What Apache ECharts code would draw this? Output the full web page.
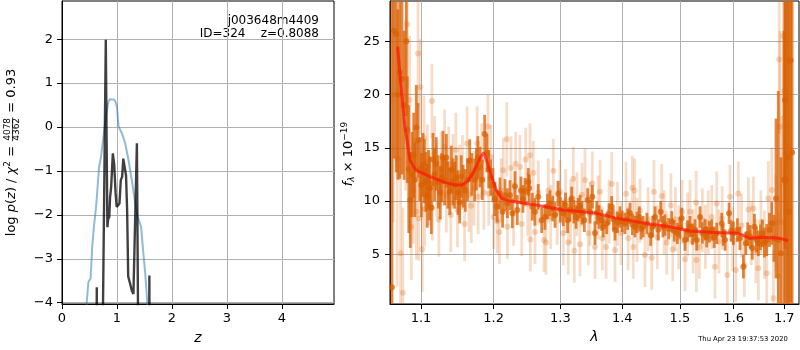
<!DOCTYPE html>
<html><head><meta charset="utf-8">
<script src="https://cdn.jsdelivr.net/npm/echarts@6/dist/echarts.min.js"></script>
<style>html,body{margin:0;padding:0;background:#fff}#c{width:800px;height:350px}</style>
</head><body><div id="c"></div><script>
// ---------------- data ----------------
const zTicks = [0, 1, 2, 3, 4];
const logpTicks = [-4, -3, -2, -1, 0, 1, 2];
const lamTicks = [1.1, 1.2, 1.3, 1.4, 1.5, 1.6, 1.7];
const fluxTicks = [5, 10, 15, 20, 25];

const blueZ =    [0.44, 0.45, 0.48, 0.52, 0.55, 0.58, 0.62, 0.675, 0.71, 0.755, 0.80, 0.845, 0.87, 0.89, 0.955, 0.98, 1.0, 1.03, 1.09, 1.15, 1.21, 1.27, 1.33, 1.375, 1.41, 1.44, 1.47, 1.515, 1.545, 1.565];
const blueLogp = [-4.3, -3.99, -3.53, -3.45, -2.73, -2.28, -1.82, -0.91, -0.68, -0.22, 0.24, 0.58, 0.63, 0.63, 0.62, 0.55, 0.45, 0.01, -0.14, -0.37, -0.75, -1.21, -1.71, -2.05, -2.16, -2.28, -2.73, -3.34, -3.87, -4.3];

const blackZ =    [0.58, 0.625, 0.633, 0.641, 0.70, 0.73, 0.797, 0.812, 0.826, 0.84, 0.86, 0.875, 0.895, 0.925, 0.95, 0.975, 0.995, 1.03, 1.046, 1.07, 1.095, 1.115, 1.13, 1.145, 1.165, 1.185, 1.205, 1.24, 1.27, 1.30, 1.32, 1.363, 1.393, 1.45, 1.55, 1.585, 1.59, 1.595, 1.65];
const blackLogp = [-9, -6, -3.65, -6, -9, -6, 1.99, -0.3, -2.28, -2.1, -2.05, -1.6, -1.36, -0.6, -0.85, -1.5, -1.82, -1.86, -1.74, -1.21, -1.13, -0.72, -0.68, -0.75, -1.1, -1.89, -3.4, -3.57, -3.72, -3.80, -3.76, -0.37, -6, -9, -9, -6, -3.38, -6, -9];

const modelWave = [1.0697, 1.0736, 1.079, 1.0856, 1.0929, 1.112, 1.130, 1.146, 1.1547, 1.162, 1.169, 1.176, 1.183, 1.186, 1.19, 1.197, 1.204, 1.2117, 1.2238, 1.2535, 1.3045, 1.3577, 1.3907, 1.4416, 1.4823, 1.518, 1.5613, 1.6088, 1.617, 1.6315, 1.6578, 1.6913, 1.708];
const modelFlux = [24.5, 21.0, 17.0, 13.85, 12.9, 12.3, 11.8, 11.5, 11.5, 11.8, 12.4, 13.4, 14.3, 14.5, 13.85, 12.3, 11.0, 10.25, 10.0, 9.72, 9.16, 8.85, 8.38, 7.9, 7.59, 7.19, 7.06, 6.97, 6.81, 6.5, 6.6, 6.5, 6.28];

const darkWave = [1.0624,1.0650,1.0679,1.0700,1.0723,1.0752,1.0780,1.0808,1.0821,1.0840,1.0860,1.0882,1.0904,1.0920,1.0938,1.0961,1.0985,1.1005,1.1026,1.1045,1.1065,1.1083,1.1100,1.1115,1.1137,1.1159,1.1180,1.1203,1.1230,1.1257,1.1275,1.1294,1.1315,1.1339,1.1360,1.1385,1.1407,1.1430,1.1453,1.1475,1.1500,1.1522,1.1544,1.1570,1.1600,1.1630,1.1661,1.1690,1.1731,1.1755,1.1777,1.1805,1.1838,1.1872,1.1905,1.1930,1.1960,1.1990,1.2020,1.2050,1.2092,1.2130,1.2165,1.2200,1.2238,1.2272,1.2311,1.2345,1.2400,1.2430,1.2459,1.2509,1.2523,1.2569,1.2609,1.2659,1.2711,1.2761,1.2800,1.2839,1.2880,1.2917,1.2967,1.3000,1.3045,1.3080,1.3114,1.3150,1.3177,1.3210,1.3245,1.3280,1.3309,1.3340,1.3378,1.3431,1.3470,1.3507,1.3550,1.3580,1.3615,1.3659,1.3685,1.3741,1.3780,1.3824,1.3850,1.3878,1.3920,1.3962,1.4000,1.4046,1.4090,1.4130,1.4170,1.4215,1.4250,1.4289,1.4320,1.4356,1.4420,1.4485,1.4520,1.4560,1.4617,1.4660,1.4700,1.4736,1.4800,1.4855,1.4900,1.4955,1.5000,1.5034,1.5093,1.5140,1.5184,1.5230,1.5275,1.5306,1.5367,1.5410,1.5460,1.5491,1.5540,1.5585,1.5630,1.5678,1.5773,1.5800,1.5835,1.5911,1.5950,1.5994,1.6071,1.6120,1.6187,1.6233,1.6270,1.6318,1.6360,1.6402,1.6440,1.6480,1.6520,1.6558,1.6600,1.6646,1.6700,1.6746,1.6790,1.6832,1.6878,1.6932,1.6995,1.7012,1.7040,1.7068,1.7100,1.7129,1.7160,1.7185,1.7220];
const darkFlux = [1.9,26.0,25.7,20.0,22.1,21.5,19.0,25.0,16.7,13.0,10.1,12.5,14.3,12.0,16.9,15.7,13.0,11.5,13.4,12.8,11.8,10.5,12.0,11.2,9.4,13.9,12.5,13.5,11.8,10.8,12.2,14.1,11.9,14.1,11.5,10.9,13.0,11.8,11.5,12.2,10.8,9.9,12.3,11.4,11.0,12.0,13.8,12.5,12.0,13.0,14.1,13.2,12.0,16.3,14.5,13.0,12.2,11.5,10.2,9.5,10.72,9.0,10.56,9.8,10.56,8.85,11.4,9.16,11.0,10.2,10.87,11.8,11.2,9.47,9.0,10.4,8.2,8.5,9.5,9.8,9.3,8.7,10.7,9.2,8.85,9.6,8.2,9.2,10.25,9.0,8.5,9.2,9.47,8.9,8.2,10.1,9.0,10.4,7.0,8.9,8.5,8.2,7.6,7.9,8.8,9.47,8.3,7.3,8.0,8.5,8.1,7.9,8.3,8.85,7.8,7.6,8.0,8.5,7.4,7.6,7.9,6.8,7.6,8.5,7.3,9.0,7.6,7.75,7.4,8.06,7.2,6.97,7.5,8.38,6.34,7.2,7.6,6.9,7.3,6.34,8.5,7.0,7.3,6.65,7.1,7.28,6.6,6.97,7.9,6.8,6.34,8.85,7.2,6.97,7.28,6.5,3.84,6.03,6.9,6.65,5.6,7.6,6.4,6.03,6.6,6.97,6.1,6.34,7.3,7.9,6.5,10.25,6.34,5.1,12.0,19.5,12.0,14.1,9.0,23.2,14.57,-10,-15];
const darkErr = [30,12,13,8,10,9,7,7,5,6,4.5,4,4,3.5,4,3.5,3,3,3,3,2.8,3,2.8,3,2.5,2.5,2.5,2.5,2.5,2.5,2.3,2.5,2.3,2.2,2.2,2.2,2.2,2.2,2.2,2.1,2.1,2,2,2,2,2,2,2,2,2,2,1.9,1.9,1.8,1.8,1.8,1.7,1.6,1.6,1.5,1.5,1.5,1.5,1.4,1.4,1.4,1.4,1.4,1.3,1.3,1.3,1.3,1.3,1.3,1.3,1.2,1.2,1.2,1.2,1.2,1.2,1.2,1.2,1.2,1.2,1.2,1.2,1.1,1.1,1.1,1.1,1.1,1.1,1.1,1.1,1.1,1.1,1.1,1.1,1.1,1.1,1.0,1.0,1.0,1.0,1.0,1.0,1.0,1.0,1.0,1.0,1.0,1.0,1.0,1.0,1.0,1.0,1.0,1.0,1.0,1.0,1.0,1.0,1.0,1.0,1.0,1.0,1.0,1.0,1.0,1.0,1.0,1.0,1.0,1.0,1.0,1.0,1.0,1.0,1.0,1.0,1.0,1.0,1.0,1.0,1.0,1.0,1.0,1.0,1.0,1.0,1.0,1.0,1.1,1.1,1.1,1.1,1.1,1.1,1.1,1.1,1.2,1.2,1.2,1.2,1.3,1.4,1.5,1.6,2.0,2.2,7.5,14,9,14,14,20,18,22,22.7,23.4];

const lightWave = [1.0640,1.0690,1.0734,1.0763,1.0800,1.0821,1.0852,1.0873,1.0900,1.0940,1.0961,1.0970,1.0991,1.1017,1.1040,1.1049,1.1083,1.1110,1.1145,1.1150,1.1182,1.1210,1.1238,1.1270,1.1316,1.1339,1.1370,1.1400,1.1430,1.1469,1.1491,1.1520,1.1560,1.1590,1.1625,1.1650,1.1683,1.1721,1.1766,1.1780,1.1830,1.1860,1.1919,1.1930,1.1960,1.1999,1.2052,1.2083,1.2110,1.2140,1.2190,1.2200,1.2253,1.2290,1.2322,1.2385,1.2411,1.2470,1.2500,1.2535,1.2540,1.2584,1.2610,1.2660,1.2747,1.2777,1.2813,1.2850,1.2890,1.2950,1.2993,1.3045,1.3080,1.3123,1.3160,1.3202,1.3218,1.3260,1.3309,1.3340,1.3389,1.3442,1.3470,1.3506,1.3550,1.3600,1.3632,1.3669,1.3731,1.3780,1.3824,1.3879,1.3920,1.3980,1.4063,1.4100,1.4170,1.4186,1.4208,1.4250,1.4300,1.4387,1.4440,1.4503,1.4543,1.4600,1.4678,1.4720,1.4766,1.4840,1.4873,1.4920,1.4980,1.5040,1.5094,1.5140,1.5185,1.5240,1.5295,1.5300,1.5355,1.5410,1.5467,1.5520,1.5585,1.5645,1.5678,1.5720,1.5780,1.5878,1.5930,1.5980,1.6039,1.6088,1.6150,1.6206,1.6284,1.6340,1.6382,1.6430,1.6480,1.6530,1.6600,1.6646,1.6678,1.6746,1.6778,1.6830,1.6879,1.6896,1.6913,1.6950,1.6980,1.7000,1.7049,1.7068];
const lightFlux = [20.0,14.0,5.1,1.4,19.0,26.6,19.5,7.6,11.0,9.0,23.85,8.4,20.7,5.47,15.9,9.25,13.7,11.2,19.4,9.3,14.5,12.0,8.28,13.0,15.1,10.56,13.5,8.7,12.8,14.8,9.16,11.8,12.7,7.84,15.4,10.6,9.56,11.2,15.4,10.4,13.8,10.8,17.0,10.7,14.15,8.5,8.1,7.1,11.0,12.9,15.8,7.6,13.1,8.8,13.5,13.2,7.84,13.9,9.7,14.3,6.4,12.65,7.1,10.8,6.34,6.1,11.0,8.5,12.85,8.9,10.87,6.97,10.0,6.1,9.0,12.1,5.34,9.7,5.94,10.6,11.97,6.97,8.8,11.66,5.7,9.4,10.87,6.5,5.7,9.0,11.6,5.4,8.8,7.0,10.7,6.5,11.25,5.7,11.0,7.3,9.1,4.93,8.3,4.68,10.87,6.6,10.47,8.0,6.1,9.6,5.47,8.3,6.6,9.0,4.53,7.8,9.0,6.2,9.84,4.47,5.7,8.2,6.65,8.0,8.5,3.84,9.78,6.2,8.4,3.06,10.4,6.4,3.53,10.72,7.7,4.0,9.22,7.0,9.3,5.3,3.69,8.0,5.9,3.22,10.25,11.03,0.87,8.0,2.96,23.3,16.97,8.0,25.5,20.35,17.0,23.2];
const lightErr = [12,12,9,8,8,6,6,5,5,4.5,5,4,4.5,4,4,3.5,3.5,3.5,3.5,3,3.5,3.5,3.5,3.5,3.5,3.5,3.5,3.5,3.5,3.5,3.5,3.5,3.5,3.5,3.5,3.5,3.5,3.5,3.5,3.5,3.5,3.5,3,3,3,3,3,3,3,3,3.5,3,3,3,3,3,3,3,3,3,3,3,3,3,3,3,3,3,3,3,3,3,3,3,3,3,3,3,3,3,3,3,3,3,3,3,3,3,3,3,3,3,3,3,3,3,3,3,3,3,3,3,3,3,3,3,3,3,3,3,3,3,3,3,3,3,3,3,3,3,3,3,3,3,3,3,3,3,3,3,3,3,3,3,3,3,3,3,3,3,3,3,3.2,3.5,3.5,4,4.5,4.5,6,7,9,10,14,14,16,18,20];

// ---------------- helpers ----------------
const FF = 'DejaVu Sans';
const zip2 = (a, b) => a.map((v, i) => [v, b[i]]);
const zip3 = (a, b, c) => a.map((v, i) => [v, b[i], c[i]]);
const minus = v => (v < 0 ? '\u2212' + Math.abs(v) : String(v));

const LEFT_Y = [-4.03, 2.87];
const RIGHT_Y = [0.336, 28.79];

function errRender(width, color) {
  return function (params, api) {
    const x = api.value(0), y = api.value(1), e = api.value(2);
    const lo = Math.max(y - e, RIGHT_Y[0]), hi = Math.min(y + e, RIGHT_Y[1]);
    if (hi <= lo) return null;
    const p1 = api.coord([x, lo]), p2 = api.coord([x, hi]);
    return { type: 'line', shape: { x1: p1[0], y1: p1[1], x2: p2[0], y2: p2[1] },
      style: { stroke: color, lineWidth: width } };
  };
}

const mctx = document.createElement('canvas').getContext('2d');
function fontStr(p) { return (p.italic ? 'italic ' : '') + p.size + 'px "' + FF + '"'; }
function tw(p) { mctx.font = fontStr(p); return mctx.measureText(p.text).width; }

// Rotated label built from pieces; frac pieces stack numerator/denominator
function rotLabel(cx, cy, parts) {
  let total = 0;
  parts.forEach(p => {
    if (p.frac) { p.w = Math.max(tw({ text: p.num, size: p.size }), tw({ text: p.den, size: p.size })) + 2; }
    else p.w = tw(p);
    total += p.w;
  });
  let x = -total / 2;
  const children = [];
  parts.forEach(p => {
    if (p.frac) {
      const mid = x + p.w / 2;
      children.push({ type: 'text', x: mid, y: -4.6, style: { text: p.num, font: fontStr(p), fill: '#000', align: 'center', verticalAlign: 'middle' } });
      children.push({ type: 'text', x: mid, y: 5.0, style: { text: p.den, font: fontStr(p), fill: '#000', align: 'center', verticalAlign: 'middle' } });
      children.push({ type: 'line', shape: { x1: x + 0.5, y1: 0.6, x2: x + p.w - 0.5, y2: 0.6 }, style: { stroke: '#000', lineWidth: 0.8 } });
    } else {
      children.push({ type: 'text', x: x, y: p.dy || 0, style: { text: p.text, font: fontStr(p), fill: '#000', align: 'left', verticalAlign: 'middle' } });
    }
    x += p.w;
  });
  return { type: 'group', x: cx, y: cy, rotation: Math.PI / 2, children: children };
}

const tickLabel = { color: '#000', fontSize: 13, fontFamily: FF };
const splitL = { show: true, lineStyle: { color: '#b0b0b0', width: 1 } };
const axLine = { show: true, onZero: false, lineStyle: { color: '#000', width: 1 } };

const option = {
  animation: false,
  backgroundColor: '#fff',
  grid: [
    { left: 62, top: 1, width: 272, height: 303, show: true, borderColor: '#000', borderWidth: 1, backgroundColor: 'transparent', outerBoundsMode: 'none' },
    { left: 390, top: 1, width: 409, height: 303, show: true, borderColor: '#000', borderWidth: 1, backgroundColor: 'transparent', outerBoundsMode: 'none' }
  ],
  xAxis: [
    { type: 'value', gridIndex: 0, min: 0, max: 4.95,
      axisLine: axLine, axisTick: { show: true, length: 5, lineStyle: { color: '#000' }, customValues: zTicks },
      axisLabel: Object.assign({ customValues: zTicks, margin: 8, formatter: v => minus(v) }, tickLabel),
      splitLine: splitL,
      name: 'z', nameLocation: 'middle', nameGap: 27,
      nameTextStyle: { fontStyle: 'italic', fontSize: 14, fontFamily: FF, color: '#000' } },
    { type: 'log', logBase: 10, gridIndex: 1, min: 1.0599, max: 1.7302,
      axisLine: axLine, axisTick: { show: true, length: 5, lineStyle: { color: '#000' }, customValues: lamTicks },
      axisLabel: Object.assign({ customValues: lamTicks, margin: 8, formatter: v => Number(v).toFixed(1) }, tickLabel),
      splitLine: splitL,
      name: 'λ', nameLocation: 'middle', nameGap: 26,
      nameTextStyle: { fontStyle: 'italic', fontSize: 14, fontFamily: FF, color: '#000' } }
  ],
  yAxis: [
    { type: 'value', gridIndex: 0, min: LEFT_Y[0], max: LEFT_Y[1],
      axisLine: axLine, axisTick: { show: true, length: 5, lineStyle: { color: '#000' }, customValues: logpTicks },
      axisLabel: Object.assign({ customValues: logpTicks, margin: 9, formatter: v => minus(v) }, tickLabel),
      splitLine: splitL },
    { type: 'value', gridIndex: 1, min: RIGHT_Y[0], max: RIGHT_Y[1],
      axisLine: axLine, axisTick: { show: true, length: 5, lineStyle: { color: '#000' }, customValues: fluxTicks },
      axisLabel: Object.assign({ customValues: fluxTicks, margin: 10 }, tickLabel),
      splitLine: splitL }
  ],
  series: [
    { type: 'line', xAxisIndex: 0, yAxisIndex: 0, data: zip2(blueZ, blueLogp), showSymbol: false, clip: true,
      lineStyle: { color: '#1f77b4', opacity: 0.5, width: 2 }, z: 2 },
    { type: 'line', xAxisIndex: 0, yAxisIndex: 0, data: zip2(blackZ, blackLogp), showSymbol: false, clip: true,
      lineStyle: { color: '#000', opacity: 0.75, width: 2.4 }, z: 3 },
    { type: 'custom', xAxisIndex: 1, yAxisIndex: 1, data: zip3(lightWave, lightFlux, lightErr), clip: true,
      renderItem: errRender(2.8, 'rgba(217,95,2,0.22)'), encode: { x: 0, y: 1 }, z: 2 },
    { type: 'scatter', xAxisIndex: 1, yAxisIndex: 1, data: zip2(lightWave, lightFlux), symbolSize: 6, clip: true,
      itemStyle: { color: 'rgba(217,95,2,0.3)' }, z: 3 },
    { type: 'custom', xAxisIndex: 1, yAxisIndex: 1, data: zip3(darkWave, darkFlux, darkErr), clip: true,
      renderItem: errRender(2.8, 'rgba(217,95,2,0.75)'), encode: { x: 0, y: 1 }, z: 4 },
    { type: 'scatter', xAxisIndex: 1, yAxisIndex: 1, data: zip2(darkWave, darkFlux), symbolSize: 6, clip: true,
      itemStyle: { color: 'rgba(217,95,2,0.9)' }, z: 5 },
    { type: 'line', xAxisIndex: 1, yAxisIndex: 1, data: zip2(modelWave, modelFlux), showSymbol: false, clip: true,
      lineStyle: { color: 'rgba(255,20,10,0.7)', width: 3 }, z: 6 }
  ],
  graphic: [
    { type: 'text', x: 319, y: 21, style: { text: 'j003648m4409', font: '12px "' + FF + '"', fill: '#000', align: 'right', verticalAlign: 'middle' } },
    { type: 'text', x: 319, y: 34, style: { text: 'ID=324    z=0.8088', font: '12px "' + FF + '"', fill: '#000', align: 'right', verticalAlign: 'middle' } },
    { type: 'text', x: 743, y: 339, style: { text: 'Thu Apr 23 19:37:53 2020', font: '6.8px "' + FF + '"', fill: '#000', align: 'center', verticalAlign: 'middle' } },
    rotLabel(12, 152.5, [
      { text: 'log ', size: 13 }, { text: 'p', size: 13, italic: true }, { text: '(', size: 13 },
      { text: 'z', size: 13, italic: true }, { text: ')', size: 13 }, { text: ' / ', size: 13 },
      { text: 'χ', size: 13, italic: true }, { text: '2', size: 9, dy: -4.5 }, { text: ' = ', size: 13 },
      { frac: true, num: '4078', den: '4362', size: 9 }, { text: ' = 0.93', size: 13 }
    ]),
    rotLabel(349, 154, [
      { text: 'f', size: 13, italic: true }, { text: 'λ', size: 9, italic: true, dy: 3 },
      { text: ' × 10', size: 13 }, { text: '\u221219', size: 9, dy: -4.5 }
    ])
  ]
};

const chart = echarts.init(document.getElementById('c'), null, { renderer: 'canvas' });
chart.setOption(option);
</script></body></html>
